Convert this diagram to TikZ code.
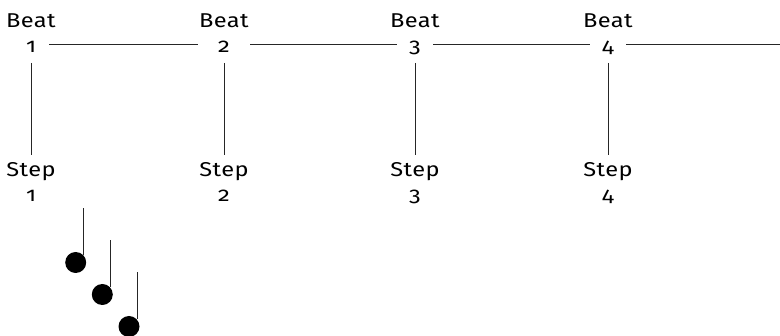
\documentclass[tikz,border=0pt]{standalone}
\usepackage{fontspec}
\setmainfont{Fira Sans}[Numbers=OldStyle, FakeStretch=1.18, LetterSpace=2]
\begin{document}
\begin{tikzpicture}[x=1pt,y=-1pt,
  lbl/.style={font=\fontsize{20}{22}\selectfont, inner sep=0pt, anchor=base},
  num/.style={lbl, minimum width=36pt},
  conn/.style={draw=black!85, line width=1pt},
  note/.style={circle, fill=black, minimum size=21pt, inner sep=0pt}]
\useasboundingbox (0,0) rectangle (780,336);
% beats
\foreach \i/\x in {1/31,2/224,3/415,4/608}{
  \node[lbl] (bt\i) at (\x,28) {Beat};
  \node[num] (bn\i) at (\x,53) {\i};
  \node[lbl] (st\i) at (\x,177) {Step};
  \node[lbl] (sn\i) at (\x,202) {\i};
  \coordinate (vt\i) at (\x,63);
  \coordinate (vb\i) at (\x,155);
}
\coordinate (endr) at (780,45);
\draw[conn] (bn1.east |- endr) -- ([xshift=-8pt]bn2.west |- endr);
\draw[conn] ([xshift=8pt]bn2.east |- endr) -- (bn3.west |- endr);
\draw[conn] (bn3.east |- endr) -- (bn4.west |- endr);
\draw[conn] (bn4.east |- endr) -- (endr);
\foreach \i in {1,2,3,4}{
  \draw[conn] (vt\i) -- (vb\i);
}
% notes
\node[note] (n1) at (75.7,262.5) {};
\node[note] (n2) at (102.3,294.5) {};
\node[note] (n3) at (129,326.5) {};
\coordinate (s1) at (83.3,208.5);
\coordinate (s2) at (110.3,240.5);
\coordinate (s3) at (137,272.5);
\draw[conn] (s1) -- (s1 |- n1.45);
\draw[conn] (s2) -- (s2 |- n2.45);
\draw[conn] (s3) -- (s3 |- n3.45);
\end{tikzpicture}
\end{document}
